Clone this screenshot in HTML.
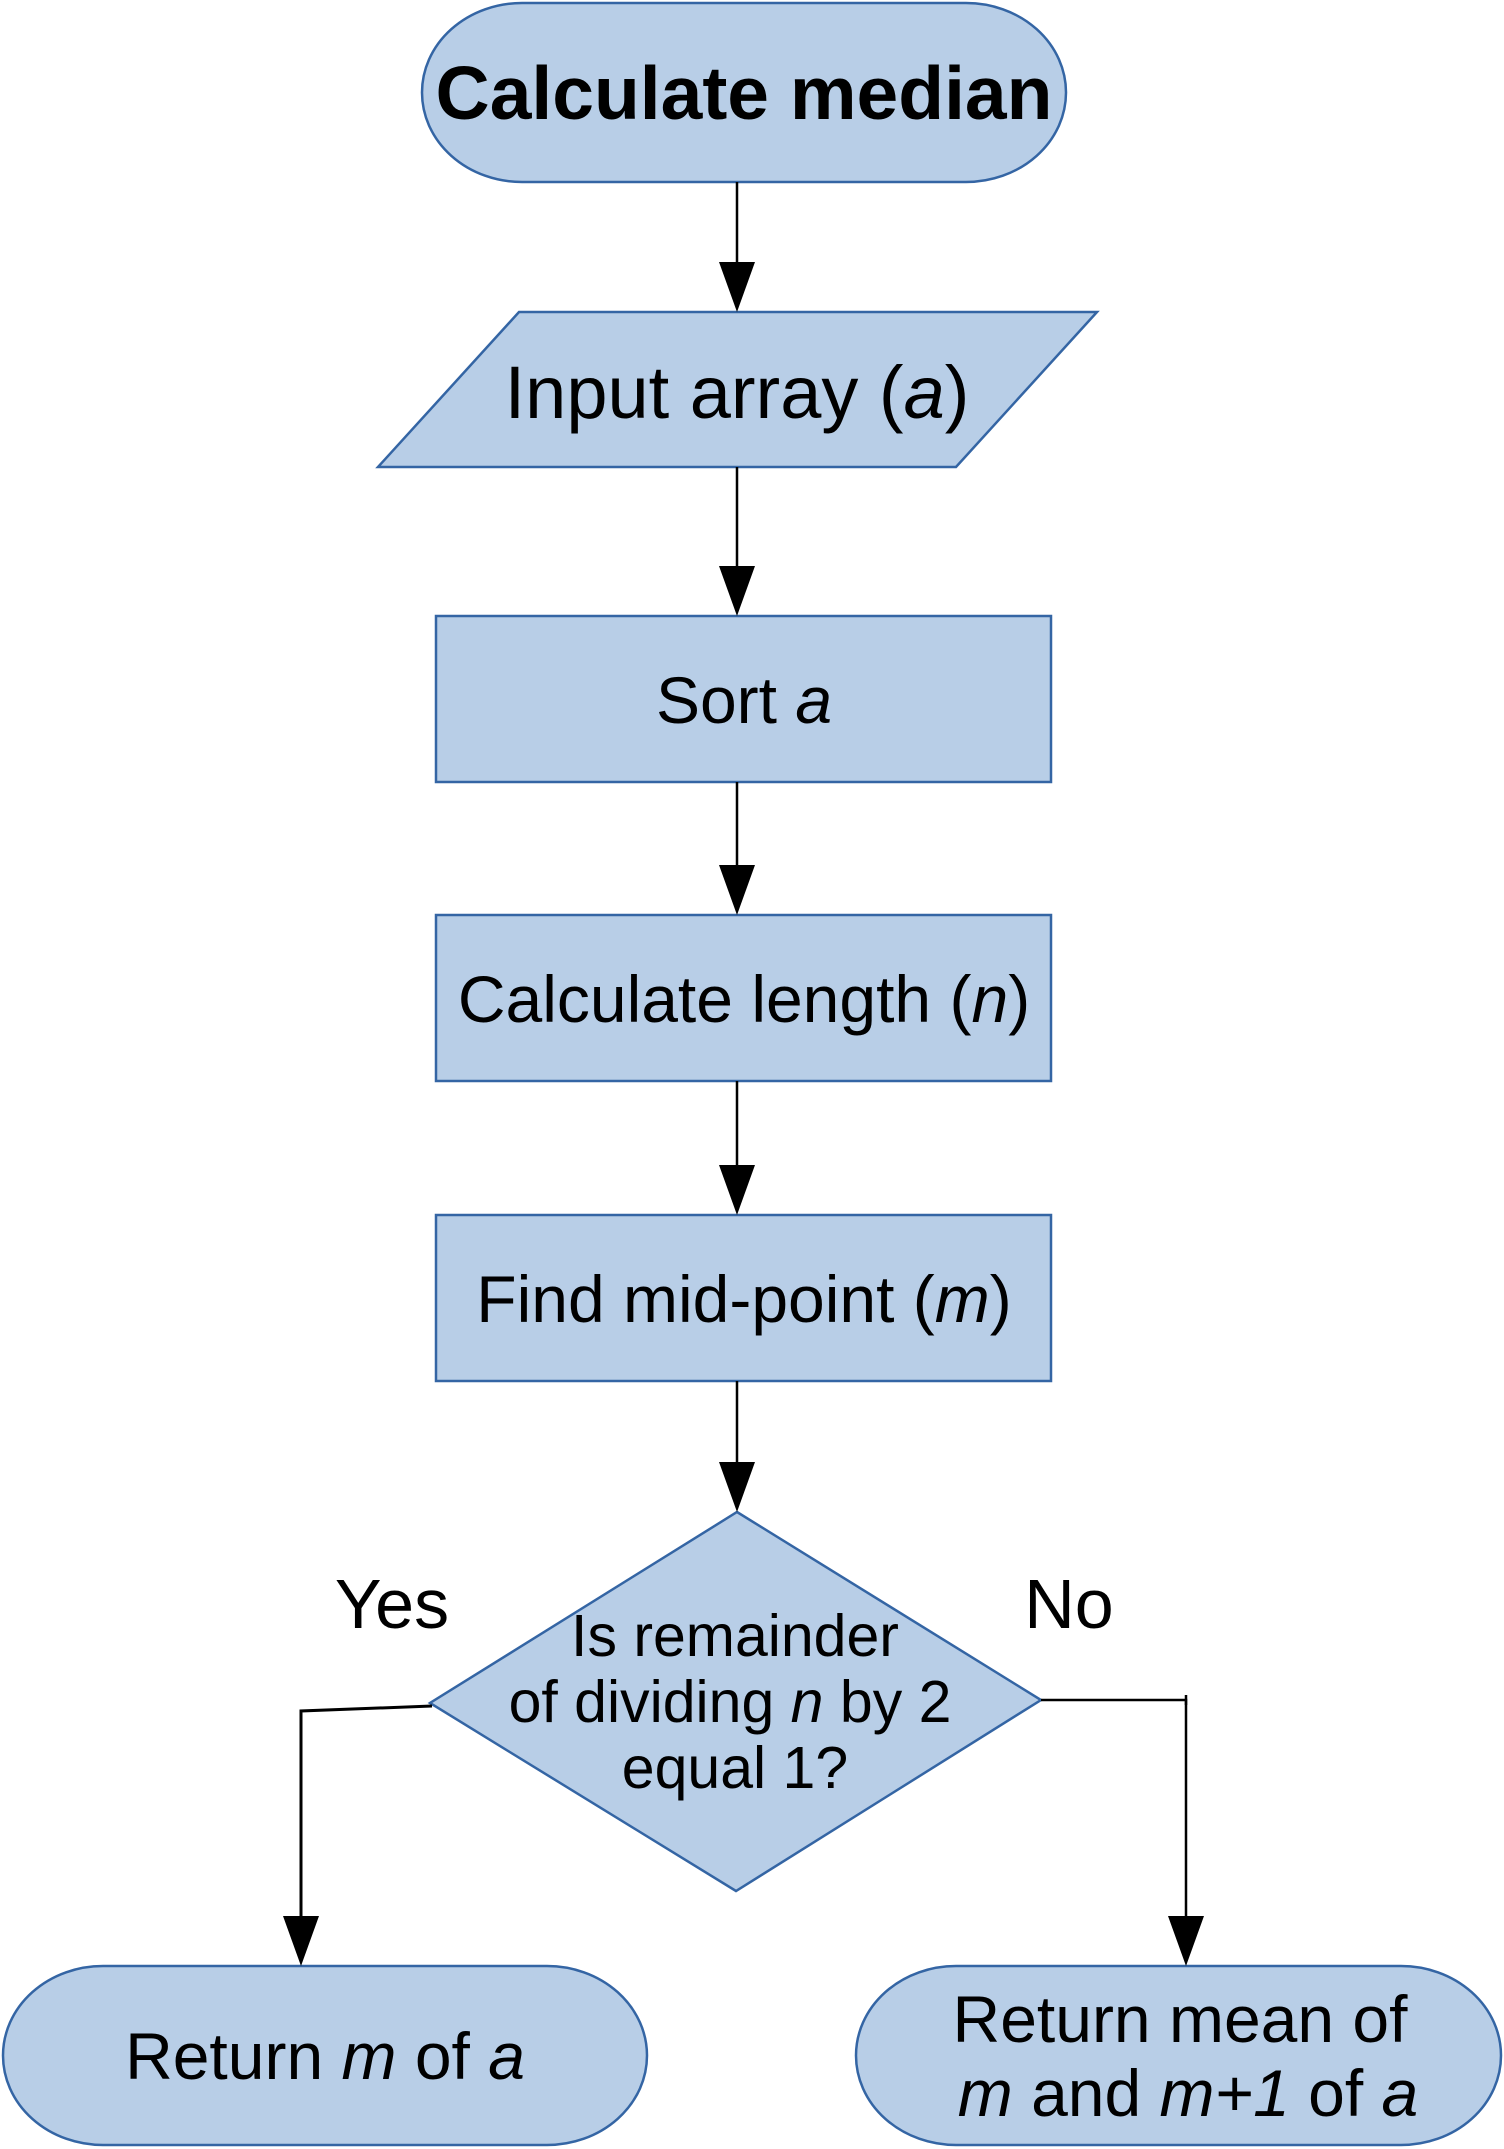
<!DOCTYPE html>
<html><head><meta charset="utf-8"><style>
html,body{margin:0;padding:0;background:#fff;}
svg{display:block;}
text{font-family:"Liberation Sans",Arial,sans-serif;fill:#000;}
</style></head><body>
<svg width="1504" height="2149" viewBox="0 0 1504 2149" xmlns="http://www.w3.org/2000/svg">
<g fill="#b8cee7" stroke="#3465a4" stroke-width="2.5">
<rect x="422" y="3" width="644" height="179" rx="100" ry="90"/>
<polygon points="519,312 1097,312 956,467 378,467"/>
<rect x="436" y="616" width="615" height="166"/>
<rect x="436" y="915" width="615" height="166"/>
<rect x="436" y="1215" width="615" height="166"/>
<polygon points="737,1512 1041,1700 736,1891 430,1703"/>
<rect x="3" y="1966" width="644" height="179" rx="100" ry="90"/>
<rect x="856" y="1966" width="645" height="179" rx="100" ry="90"/>
</g>
<g stroke="#000" stroke-width="2.5" fill="none">
<line x1="737" y1="182" x2="737" y2="262"/>
<line x1="737" y1="467" x2="737" y2="566"/>
<line x1="737" y1="782" x2="737" y2="865"/>
<line x1="737" y1="1081" x2="737" y2="1165"/>
<line x1="737" y1="1381" x2="737" y2="1462"/>
<polyline points="432,1706 301,1711 301,1916" stroke-width="3"/>
<polyline points="1041,1700 1186,1700 1186,1916"/>
<line x1="1186" y1="1695" x2="1186" y2="1705"/>
</g>
<g fill="#000">
<path d="M719,262 L755,262 L737,312 Z"/>
<path d="M719,566 L755,566 L737,616 Z"/>
<path d="M719,865 L755,865 L737,915 Z"/>
<path d="M719,1165 L755,1165 L737,1215 Z"/>
<path d="M719,1462 L755,1462 L737,1512 Z"/>
<path d="M283,1916 L319,1916 L301,1966 Z"/>
<path d="M1168,1916 L1204,1916 L1186,1966 Z"/>
</g>
<g text-anchor="middle">
<text x="744" y="119" font-size="75" font-weight="bold">Calculate median</text>
<text x="737" y="418" font-size="74">Input array (<tspan font-style="italic">a</tspan>)</text>
<text x="744" y="723" font-size="66">Sort <tspan font-style="italic">a</tspan></text>
<text x="744" y="1022" font-size="66">Calculate length (<tspan font-style="italic">n</tspan>)</text>
<text x="744" y="1322" font-size="66">Find mid-point (<tspan font-style="italic">m</tspan>)</text>
<text x="735" y="1656" font-size="59">Is remainder</text>
<text x="730" y="1722" font-size="59">of dividing <tspan font-style="italic">n</tspan> by 2</text>
<text x="735" y="1788" font-size="59">equal 1?</text>
<text x="392" y="1628" font-size="70">Yes</text>
<text x="1069" y="1628" font-size="70">No</text>
<text x="325" y="2079" font-size="66">Return <tspan font-style="italic">m</tspan> of <tspan font-style="italic">a</tspan></text>
<text x="1180" y="2042" font-size="66">Return mean of</text>
<text x="1188" y="2116" font-size="66"><tspan font-style="italic">m</tspan> and <tspan font-style="italic">m+1</tspan> of <tspan font-style="italic">a</tspan></text>
</g>
</svg>
</body></html>
